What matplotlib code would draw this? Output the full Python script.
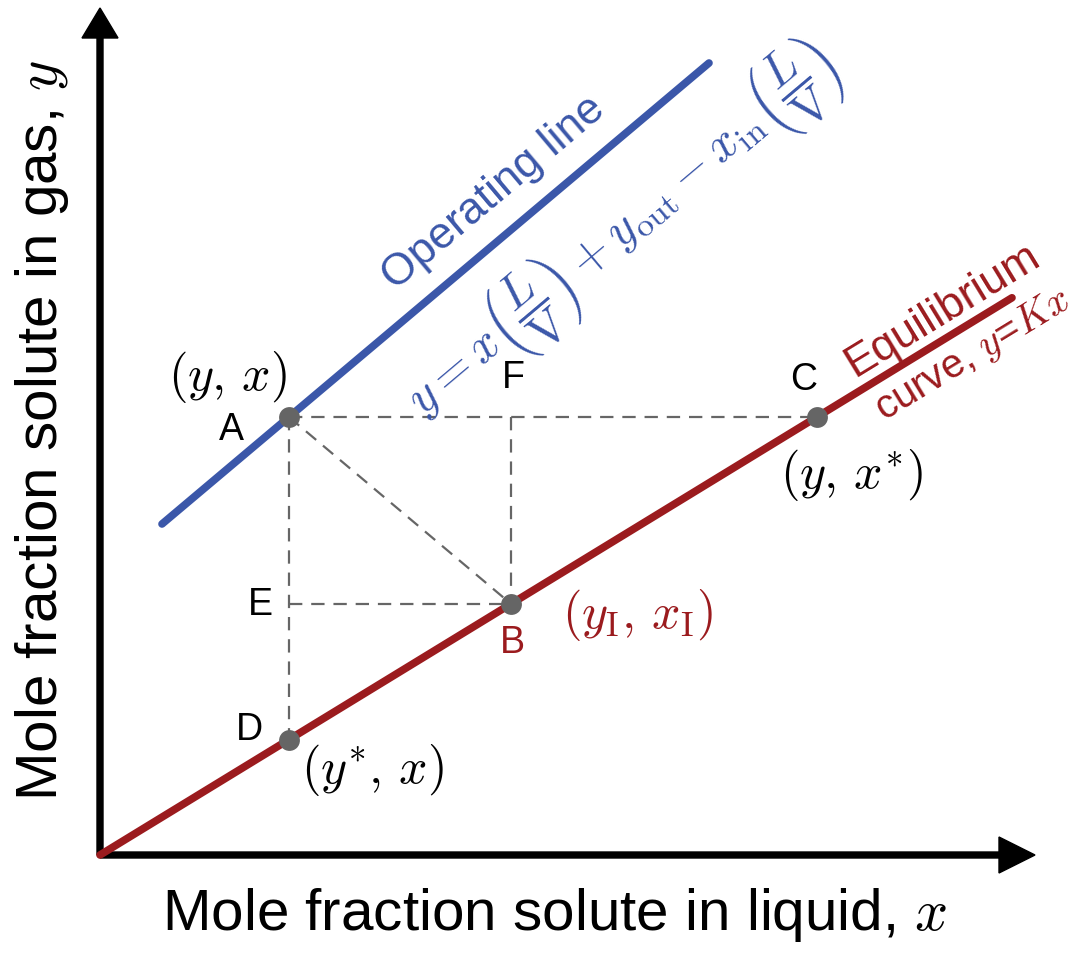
import numpy as np
import matplotlib
matplotlib.use("Agg")
import matplotlib.pyplot as plt

plt.rcParams['mathtext.fontset'] = 'cm'
plt.rcParams['font.family'] = ['Liberation Sans', 'DejaVu Sans']

# ---- data (diagram units) ----
K = 0.611                       # equilibrium slope y = Kx
eq_x = [0, 912]
op_x = [62, 609]
op_y = [331, 792]
op_slope = (op_y[1] - op_y[0]) / (op_x[1] - op_x[0])

y_gas = 438                     # y of point A / C
xA = op_x[0] + (y_gas - op_y[0]) / op_slope
xB = 411
point_names = ['A', 'B', 'C', 'D']
point_x = [xA, xB, y_gas / K, xA]
point_y = [y_gas, K * xB, y_gas, K * xA]

BLUE = '#3b57a9'
RED = '#9b1b1e'
GRAY = '#666666'

fig = plt.figure(figsize=(10.79, 9.6), dpi=100)
ax = fig.add_axes([0, 0, 1, 1])
ax.set_xlim(-100, 979)
ax.set_ylim(-105, 855)
ax.axis('off')

# axes arrows
ax.arrow(0, 0, 0, 847, width=6, head_width=36, head_length=30,
         length_includes_head=True, color='black', zorder=2)
ax.arrow(0, 0, 935, 0, width=6, head_width=36, head_length=36,
         length_includes_head=True, color='black', zorder=2)

# lines
eq_x = np.array(eq_x)
ax.plot(eq_x, K * eq_x, color=RED, lw=5.5, solid_capstyle='round', zorder=3)
ax.plot(op_x, op_y, color=BLUE, lw=5.5, solid_capstyle='round', zorder=3)

A = (point_x[0], point_y[0]); B = (point_x[1], point_y[1])
C = (point_x[2], point_y[2]); D = (point_x[3], point_y[3])
E = (A[0], B[1]); F = (B[0], A[1])
dash = dict(color=GRAY, lw=1.6, dashes=(6, 4), zorder=2)
ax.plot([A[0], C[0]], [A[1], C[1]], **dash)
ax.plot([A[0], D[0]], [A[1], D[1]], **dash)
ax.plot([F[0], B[0]], [F[1], B[1]], **dash)
ax.plot([E[0], B[0]], [E[1], B[1]], **dash)
ax.plot([A[0], B[0]], [A[1], B[1]], **dash)

ax.plot(point_x, point_y, 'o', color='#656565', ms=15, mec='none', zorder=4)

# letters
lf = 27
ax.text(131, 425, 'A', fontsize=lf, ha='center', va='center')
ax.text(413, 477, 'F', fontsize=lf, ha='center', va='center')
ax.text(704, 475, 'C', fontsize=lf, ha='center', va='center')
ax.text(160, 250, 'E', fontsize=lf, ha='center', va='center')
ax.text(412, 212, 'B', fontsize=lf, ha='center', va='center', color=RED)
ax.text(149, 125, 'D', fontsize=lf, ha='center', va='center')

mf = 36
ax.text(128, 478, r'$(y,\,x)$', fontsize=mf, ha='center', va='center')
ax.text(751, 380, r'$(y,\,x^{*})$', fontsize=mf, ha='center', va='center')
ax.text(537, 240, r'$(y_{\mathrm{I}},\,x_{\mathrm{I}})$', fontsize=mf, ha='center', va='center', color=RED)
ax.text(272, 85, r'$(y^{*},\,x)$', fontsize=mf, ha='center', va='center')

op_ang = np.degrees(np.arctan(op_slope))
eq_ang = np.degrees(np.arctan(K))
ax.text(394, 662, 'Operating line', fontsize=32, color=BLUE, rotation=op_ang,
        ha='center', va='center', rotation_mode='anchor')
ax.text(522, 622, r'$y=x\left(\dfrac{L}{\mathrm{V}}\right)+y_{\mathrm{out}}-x_{\mathrm{in}}\left(\dfrac{L}{\mathrm{V}}\right)$',
        fontsize=35, color=BLUE, rotation=op_ang, ha='center', va='center', rotation_mode='anchor')
ax.text(842, 545, 'Equilibrium', fontsize=32, color=RED, rotation=eq_ang,
        ha='center', va='center', rotation_mode='anchor')
ax.text(873, 500, r'curve, $y$=$Kx$', fontsize=29, color=RED, rotation=eq_ang,
        ha='center', va='center', rotation_mode='anchor')

ax.text(455, -60, r'Mole fraction solute in liquid, $x$', fontsize=42, ha='center', va='center')
ax.text(-58, 425, r'Mole fraction solute in gas, $y$', fontsize=42, ha='center', va='center', rotation=90)

fig.savefig('out.png', dpi=100)
